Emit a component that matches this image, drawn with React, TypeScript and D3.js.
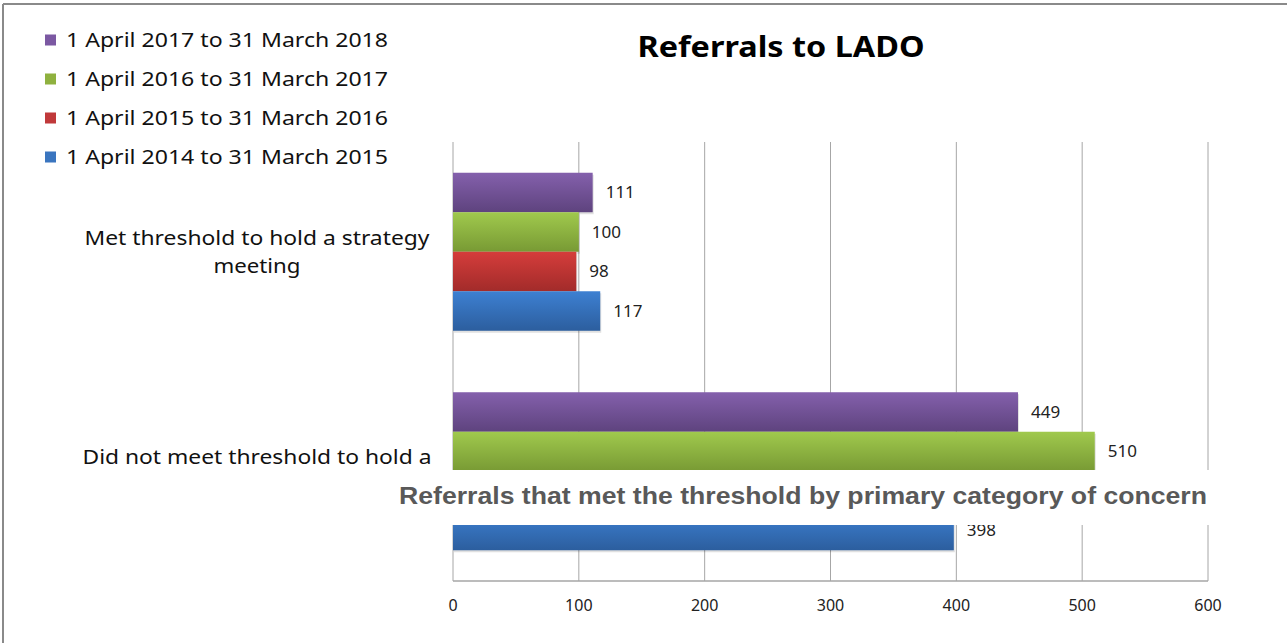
import React from "react";
import * as d3 from "d3";

const categories = ["Met threshold to hold a strategy meeting", "Did not meet threshold to hold a strategy meeting"];
const categoryLines = [["Met threshold to hold a strategy", "meeting"], ["Did not meet threshold to hold a", "strategy meeting"]];
const categoryLineWidths = [[345, 87], [349, 170]];
const seriesNames = [
  "1 April 2017 to 31 March 2018",
  "1 April 2016 to 31 March 2017",
  "1 April 2015 to 31 March 2016",
  "1 April 2014 to 31 March 2015",
];
const seriesValues = [
  [111, 449],
  [100, 510],
  [98, 470],
  [117, 398],
];
const xTicks = [0, 100, 200, 300, 400, 500, 600];
const seriesColors = [
  ["#8460ac", "#5e437e"],
  ["#a0c94d", "#789a34"],
  ["#d53d3b", "#a22b2a"],
  ["#3d80d2", "#2c5e9e"],
];
const legendColors = ["#7b58a2", "#8fb13f", "#c0393a", "#3a75bf"];

export default function App() {
  const W = 1288, H = 643;
  const x = d3.scaleLinear().domain([0, 600]).range([453, 1208]);
  const y0 = d3.scaleBand<string>().domain(categories).range([142, 581]).padding(0);
  const y1 = d3
    .scaleBand<string>()
    .domain(seriesNames)
    .range([0, y0.bandwidth()])
    .paddingInner(0)
    .paddingOuter(0.778);
  const font = "'Noto Sans', sans-serif";
  const bandTop = 470, bandBottom = 525;
  return (
    <svg width={W} height={H} style={{ position: "absolute", left: 0, top: 0, background: "#fff" }}>
      <defs>
        {seriesColors.map((c, i) => (
          <linearGradient key={i} id={`g${i}`} x1="0" y1="0" x2="0" y2="1">
            <stop offset="0" stopColor={c[0]} />
            <stop offset="1" stopColor={c[1]} />
          </linearGradient>
        ))}
      </defs>
      <rect x={0} y={0} width={W} height={H} fill="#fff" />
      {/* chart border */}
      <line x1={3} y1={4} x2={1287} y2={4} stroke="#8a8a8a" strokeWidth={2} />
      <line x1={3} y1={4} x2={3} y2={H} stroke="#8a8a8a" strokeWidth={2} />

      {/* gridlines */}
      {xTicks.map((t) => (
        <line key={t} x1={x(t)} x2={x(t)} y1={142} y2={581} stroke="#a6a6a6" strokeWidth={1} />
      ))}
      <line x1={453} x2={1208} y1={581} y2={581} stroke="#a6a6a6" strokeWidth={1.5} />

      {/* bars */}
      {categories.map((cat, ci) =>
        seriesNames.map((s, si) => {
          const v = seriesValues[si][ci];
          const by = (y0(cat) as number) + (y1(s) as number);
          const bh = y1.bandwidth();
          const cy = by + bh / 2;
          const hidden = cy > bandTop && cy < bandBottom - 10;
          return (
            <g key={cat + s}>
              <rect x={x(0) + 1} y={by + 2} width={x(v) - x(0)} height={bh} fill="#000" opacity={0.12} />
              <rect x={x(0)} y={by} width={x(v) - x(0)} height={bh} fill={`url(#g${si})`} />
              {!hidden && (
                <text x={x(v) + 13} y={cy} dy="0.35em" fontFamily={font} fontSize={17} fill="#222">
                  {v}
                </text>
              )}
            </g>
          );
        })
      )}

      {/* category labels */}
      {categories.map((cat, ci) => {
        const cy = (y0(cat) as number) + y0.bandwidth() / 2;
        return (
          <g key={cat}>
            {categoryLines[ci].map((l, li) => (
              <text
                key={li}
                x={257}
                y={cy + (li - 0.5) * 28}
                dy="0.35em"
                textAnchor="middle"
                fontFamily={font}
                fontSize={20.5}
                fill="#111"
                textLength={categoryLineWidths[ci][li]}
                lengthAdjust="spacingAndGlyphs"
              >
                {l}
              </text>
            ))}
          </g>
        );
      })}

      {/* x tick labels */}
      {xTicks.map((t) => (
        <text key={t} x={x(t)} y={605} dy="0.35em" textAnchor="middle" fontFamily={font} fontSize={16} fill="#222">
          {t}
        </text>
      ))}

      {/* title */}
      <text
        x={781}
        y={57}
        textAnchor="middle"
        fontFamily={font}
        fontWeight="bold"
        fontSize={29}
        fill="#000"
        textLength={287}
        lengthAdjust="spacingAndGlyphs"
      >
        Referrals to LADO
      </text>

      {/* legend */}
      {seriesNames.map((s, i) => (
        <g key={s} transform={`translate(45, ${40 + i * 39})`}>
          <rect x={0} y={-5.5} width={11} height={11} fill={legendColors[i]} />
          <text
            x={21}
            y={0}
            dy="0.35em"
            fontFamily={font}
            fontSize={20.5}
            fill="#111"
            textLength={322}
            lengthAdjust="spacingAndGlyphs"
          >
            {s}
          </text>
        </g>
      ))}

      {/* overlaid white band with heading */}
      <rect x={6} y={bandTop} width={1280} height={bandBottom - bandTop} fill="#fff" />
      <text
        x={803}
        y={504}
        textAnchor="middle"
        fontFamily="'Liberation Sans', Arial, sans-serif"
        fontWeight="bold"
        fontSize={24}
        fill="#595959"
        textLength={808}
        lengthAdjust="spacingAndGlyphs"
      >
        Referrals that met the threshold by primary category of concern
      </text>
    </svg>
  );
}
